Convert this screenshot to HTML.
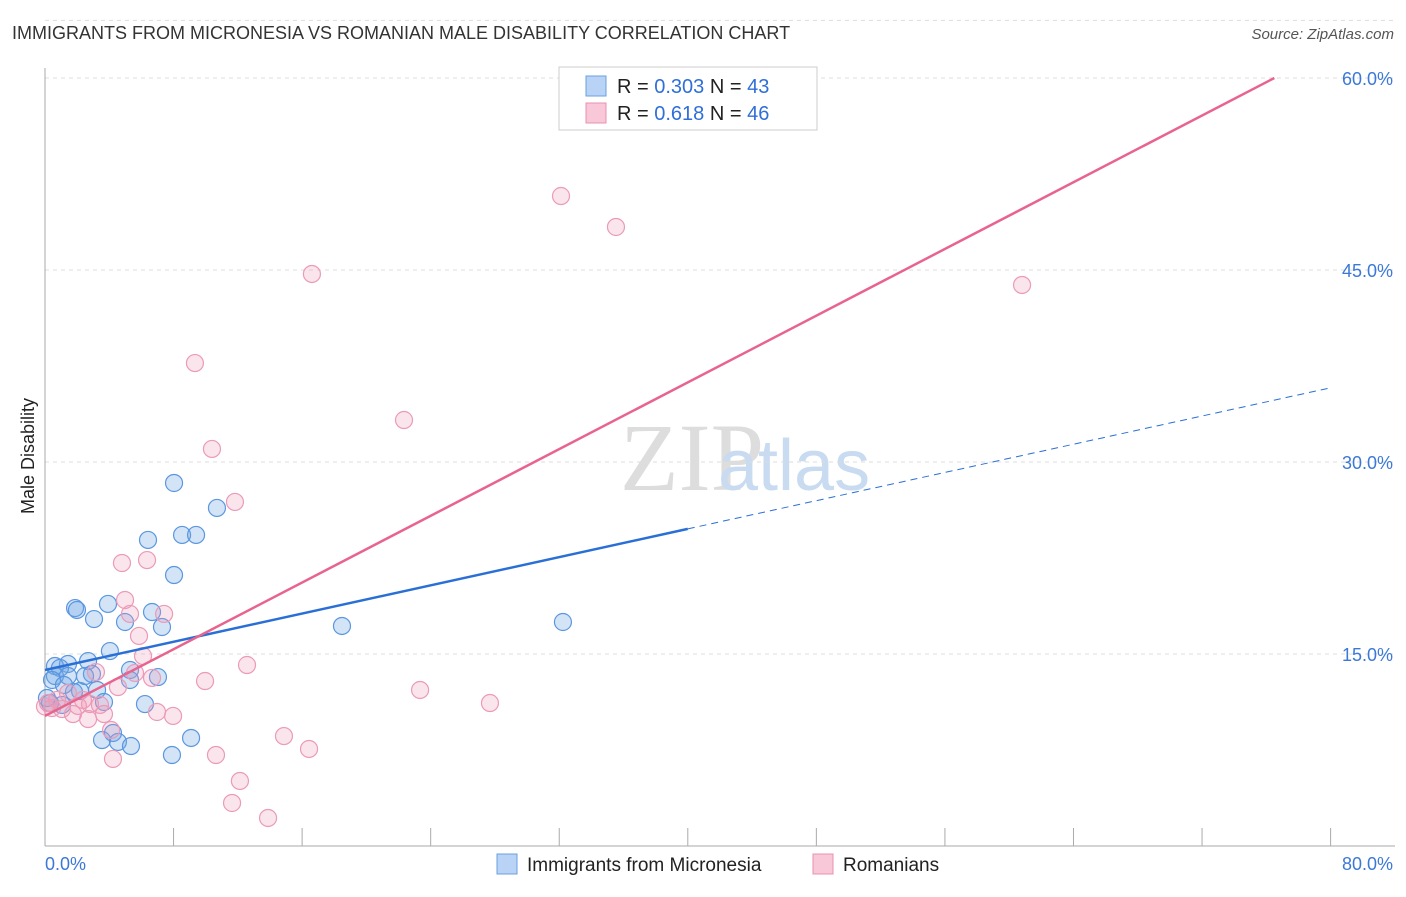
<!DOCTYPE html>
<html><head><meta charset="utf-8"><style>
body{margin:0;background:#fff;font-family:"Liberation Sans",sans-serif}
#wrap{position:relative;width:1406px;height:892px}
</style></head><body>
<div id="wrap">
<svg id="chart" width="1406" height="892">
<text x="12" y="39" font-size="18" fill="#333">IMMIGRANTS FROM MICRONESIA VS ROMANIAN MALE DISABILITY CORRELATION CHART</text>
<text x="1394" y="39" font-size="15" fill="#555" font-style="italic" text-anchor="end">Source: ZipAtlas.com</text>
<text x="34" y="456" font-size="18" fill="#222" transform="rotate(-90 34 456)" text-anchor="middle">Male Disability</text>
<text x="620" y="490" font-size="96" fill="#ddd" font-family="Liberation Serif">ZIP</text>
<text x="718" y="490" font-size="72" fill="#c9dbf0">atlas</text>
<g id="grid"></g><g id="axes"></g><g id="pts"></g><g id="trend"></g>
<g>
<rect x="559" y="67" width="258" height="63" fill="#fff" stroke="#ccc"/>
<rect x="586" y="76" width="20" height="20" fill="#b8d3f5" stroke="#6a9fe0"/>
<rect x="586" y="103" width="20" height="20" fill="#f8c8d8" stroke="#e890b0"/>
<text x="617" y="93" font-size="20" fill="#222">R = <tspan fill="#2f6fd8">0.303</tspan>   N = <tspan fill="#2f6fd8">43</tspan></text>
<text x="617" y="120" font-size="20" fill="#222">R =  <tspan fill="#2f6fd8">0.618</tspan>   N = <tspan fill="#2f6fd8">46</tspan></text>
</g>
<g>
<rect x="497" y="854" width="20" height="20" fill="#b8d3f5" stroke="#6a9fe0"/>
<text x="527" y="871" font-size="19" fill="#222">Immigrants from Micronesia</text>
<rect x="813" y="854" width="20" height="20" fill="#f8c8d8" stroke="#e890b0"/>
<text x="843" y="871" font-size="19" fill="#222">Romanians</text>
</g>
</svg></div>
<script>
const yTicks=[15,30,45,60];
const yTickLabels=["15.0%","30.0%","45.0%","60.0%"];
const xTicks=[0,8,16,24,32,40,48,56,64,72,80];
const blueX=[8.03,10.70,6.41,8.53,9.40,8.03,1.87,1.99,3.92,3.05,4.98,6.66,7.28,18.48,32.23,4.04,2.68,1.43,0.62,0.93,0.62,1.43,2.92,5.29,7.03,3.24,2.18,1.80,0.12,0.31,3.67,6.22,4.23,3.55,4.54,5.35,9.09,7.90,0.44,2.49,1.06,5.29,1.18];
const blueY=[28.36,26.41,23.91,24.30,24.30,21.17,18.59,18.44,18.91,17.73,17.50,18.28,17.11,17.19,17.50,15.23,14.45,14.22,14.06,13.91,13.28,13.28,13.44,13.75,13.20,12.19,12.11,12.03,11.56,11.17,11.25,11.09,8.83,8.28,8.13,7.81,8.44,7.11,12.97,13.28,11.02,12.97,12.58];
const pinkX=[32.11,35.53,16.61,60.80,9.33,22.34,10.39,11.82,4.79,6.35,4.98,5.29,7.41,5.85,6.10,12.57,3.17,5.60,6.66,9.96,4.54,23.34,27.69,1.43,2.36,0.75,0.19,0.44,2.80,1.74,3.67,2.68,6.97,7.97,4.11,14.87,16.43,10.64,4.23,12.13,11.64,13.88,1.06,3.42,2.05,0];
const pinkY=[50.78,48.36,44.69,43.83,37.73,33.28,31.02,26.88,22.11,22.34,19.22,18.13,18.13,16.41,14.84,14.14,13.59,13.52,13.13,12.89,12.42,12.19,11.17,11.95,11.41,11.41,11.17,10.78,11.09,10.31,10.31,9.92,10.47,10.16,9.06,8.59,7.58,7.11,6.80,5.08,3.36,2.19,10.70,11.02,10.94,10.9];
const blueTrend=[13.75,0.2756]; // intercept, slope
const blueSolidEnd=40;
const pinkTrend=[10.16,0.6515];
const pinkEnd=76.5;
const NS="http://www.w3.org/2000/svg";
const sx=v=>45+v*16.07, sy=v=>846-v*12.8;
function mk(t,a,p){const e=document.createElementNS(NS,t);for(const k in a)e.setAttribute(k,a[k]);document.getElementById(p).appendChild(e);return e;}
let e;
yTicks.forEach((t,i)=>{
e=mk('line',{x1:45,x2:1395,y1:sy(t),y2:sy(t),stroke:'#ddd','stroke-dasharray':'4,4'},'grid');


e=mk('text',{x:1393,y:sy(t)+7,'font-size':18,fill:'#3b78d8','text-anchor':'end'},'axes');e.textContent=yTickLabels[i];


});
e=mk('line',{x1:45,x2:1395,y1:sy(64.5),y2:sy(64.5),stroke:'#ddd','stroke-dasharray':'4,4'},'grid');


e=mk('line',{x1:45,x2:45,y1:68,y2:846,stroke:'#aaa'},'axes');


e=mk('line',{x1:45,x2:1395,y1:846,y2:846,stroke:'#aaa'},'axes');


xTicks.forEach(t=>{e=mk('line',{x1:sx(t),x2:sx(t),y1:828,y2:846,stroke:'#aaa'},'axes');

});
e=mk('text',{x:45,y:870,'font-size':18,fill:'#3b78d8'},'axes');e.textContent='0.0%';


e=mk('text',{x:1393,y:870,'font-size':18,fill:'#3b78d8','text-anchor':'end'},'axes');e.textContent='80.0%';


blueX.forEach((x,i)=>{e=mk('circle',{cx:sx(x),cy:sy(blueY[i]),r:8.5,fill:'rgba(110,165,230,0.3)',stroke:'#5b97e0','stroke-width':1.2},'pts');

});
pinkX.forEach((x,i)=>{e=mk('circle',{cx:sx(x),cy:sy(pinkY[i]),r:8.5,fill:'rgba(240,150,180,0.25)',stroke:'#eb9ab8','stroke-width':1.2},'pts');

});
const bl=x=>blueTrend[0]+blueTrend[1]*x, pl=x=>pinkTrend[0]+pinkTrend[1]*x;
e=mk('line',{x1:sx(0),y1:sy(bl(0)),x2:sx(blueSolidEnd),y2:sy(bl(blueSolidEnd)),stroke:'#2a6fd6','stroke-width':2.5},'trend');


e=mk('line',{x1:sx(blueSolidEnd),y1:sy(bl(blueSolidEnd)),x2:sx(80),y2:sy(bl(80)),stroke:'#2a6fd6','stroke-width':1,'stroke-dasharray':'7,5'},'trend');


e=mk('line',{x1:sx(0),y1:sy(pl(0)),x2:sx(pinkEnd),y2:sy(pl(pinkEnd)),stroke:'#e8648f','stroke-width':2.5},'trend');


</script>
</body></html>
